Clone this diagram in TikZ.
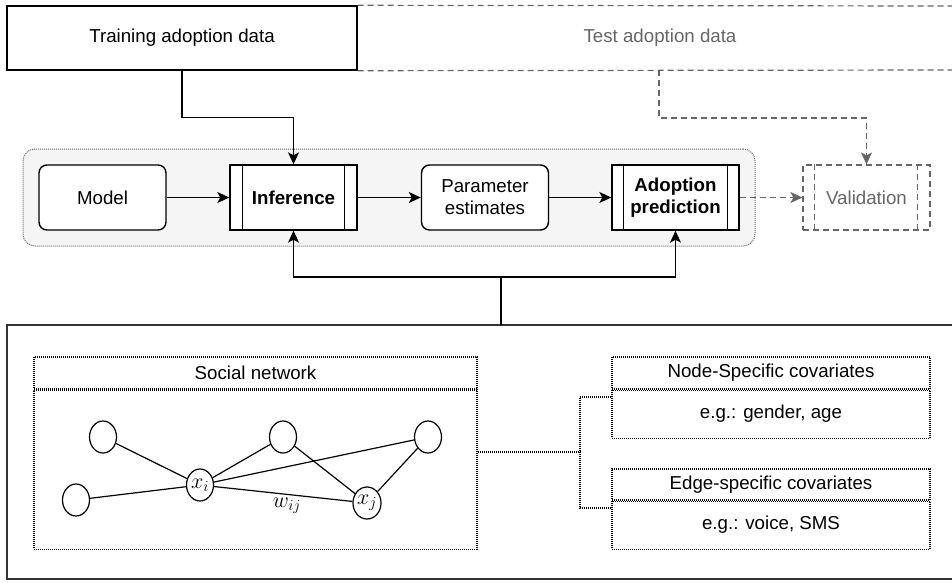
\RequirePackage{fix-cm}
\documentclass[tikz,border=0pt]{standalone}
\usepackage{fontspec}
\setmainfont{Liberation Sans}
\usetikzlibrary{arrows.meta,shapes.geometric}
\definecolor{grp}{HTML}{F5F5F5}
\definecolor{midgray}{HTML}{666666}
\definecolor{dk}{HTML}{333333}
\begin{document}
\begin{tikzpicture}[x=1pt,y=-1pt,
  font=\fontsize{18.7}{22}\selectfont,
  >={Stealth[length=12pt,width=11pt,inset=3pt]},
  every node/.style={inner sep=0pt},
  box/.style={draw, line width=1.4pt, minimum width=127pt, minimum height=65pt, align=center},
  rbox/.style={box, rounded corners=8pt},
  arr/.style={->, line width=1.4pt},
  darr/.style={->, line width=1.3pt, midgray, dash pattern=on 6pt off 4pt},
  dline/.style={line width=1.2pt, midgray, dash pattern=on 6pt off 4pt},
  dotbox/.style={draw, line width=1.1pt, dash pattern=on 1pt off 1pt},
  dotline/.style={line width=1.1pt, dash pattern=on 1pt off 1pt},
  circ/.style={draw, ellipse, line width=1.2pt, minimum width=27pt, minimum height=32pt, font=\fontsize{22}{26}\selectfont},
  edge/.style={line width=1.2pt}
]
\useasboundingbox (0,0) rectangle (952,582);

% group background
\node[draw=midgray, fill=grp, rounded corners=12pt, line width=1pt, dash pattern=on 1pt off 1pt,
      minimum width=732pt, minimum height=97pt] (grp) at (389,197.5) {};

% top data boxes
\node[draw, line width=1.4pt, minimum width=350pt, minimum height=64pt] (train) at (182,38) {Training adoption data};
\node[text=midgray] (test) at (660,38) {Test adoption data};
\draw[dline] (train.north east) -- (952,6);
\draw[dline] (train.south east) -- (952,70);

% pipeline
\node[rbox, fill=white] (model) at (102.5,197.5) {Model};
\node[box, fill=white, font=\fontsize{18.7}{22}\selectfont\bfseries] (inf) at (293.5,197.5) {Inference};
\draw[line width=1.4pt] ([xshift=13pt]inf.north west) -- ([xshift=13pt]inf.south west);
\draw[line width=1.4pt] ([xshift=-13pt]inf.north east) -- ([xshift=-13pt]inf.south east);
\node[rbox, fill=white] (par) at (485,197.5) {Parameter\\estimates};
\node[box, fill=white, font=\fontsize{18.7}{22}\selectfont\bfseries] (adp) at (675.5,197.5) {Adoption\\prediction};
\draw[line width=1.4pt] ([xshift=12pt]adp.north west) -- ([xshift=12pt]adp.south west);
\draw[line width=1.4pt] ([xshift=-12pt]adp.north east) -- ([xshift=-12pt]adp.south east);
\node[draw=midgray, text=midgray, line width=1.2pt, dash pattern=on 6pt off 4pt,
      minimum width=127pt, minimum height=65pt] (val) at (866.5,197.5) {Validation};
\draw[dline] ([xshift=12pt]val.north west) -- ([xshift=12pt]val.south west);
\draw[dline] ([xshift=-13pt]val.north east) -- ([xshift=-13pt]val.south east);

\draw[arr] (model) -- (inf);
\draw[arr] (inf) -- (par);
\draw[arr] (par) -- (adp);
\draw[darr] (adp) -- (val);

\draw[arr] (train.south) -- ++(0,47) -| (inf.north);
\coordinate (tb) at (659,70);
\draw[darr] (tb) -- ++(0,48) -| (val.north);

% bottom container
\draw[dk, line width=1.4pt] (952,325) -- (7,325) -- (7,579) -- (952,579);
\coordinate (bb) at (501,325);
\draw[arr] (bb) -- ++(0,-48) -| (inf.south);
\draw[arr] (bb) -- ++(0,-48) -| (adp.south);

% social network
\node[dotbox, minimum width=443pt, minimum height=32pt] (snt) at (255.5,373) {Social network};
\node[dotbox, minimum width=443pt, minimum height=159pt, anchor=north] (snb) at (snt.south) {};

\node[circ] (a) at (103,437) {};
\node[circ] (b) at (76,500) {};
\node[circ] (xi) at (200,485) {$x_i$};
\node[circ] (c) at (283,437) {};
\node[circ] (xj) at (367,503) {$x_j$};
\node[circ] (d) at (428,437) {};
\node[font=\fontsize{22}{26}\selectfont] (w) at (287,506) {$w_{ij}$};
\draw[edge] (a) -- (xi);
\draw[edge] (b) -- (xi);
\draw[edge] (xi) -- (c);
\draw[edge] (xi) -- (d);
\draw[edge] (xi) -- (xj);
\draw[edge] (c) -- (xj);
\draw[edge] (d) -- (xj);

% covariates
\node[dotbox, minimum width=318pt, minimum height=32pt] (nst) at (771,373) {Node-Specific covariates};
\node[dotbox, minimum width=318pt, minimum height=48pt, anchor=north] (nsb) at (nst.south) {e.g.: gender, age};
\node[dotbox, minimum width=318pt, minimum height=31pt] (est) at (771,484.5) {Edge-specific covariates};
\node[dotbox, minimum width=318pt, minimum height=48pt, anchor=north] (esb) at (est.south) {e.g.: voice, SMS};

\coordinate (br) at (580,452);
\draw[dotline] (snb.east |- br) -- (br);
\draw[dotline] (nsb.west |- 0,397) -| (br) |- (esb.west |- 0,508);
\end{tikzpicture}
\end{document}
